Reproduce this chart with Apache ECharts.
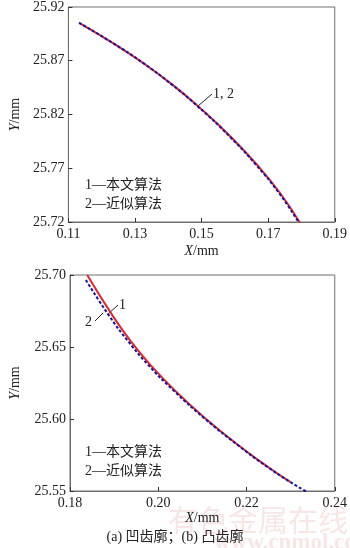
<!DOCTYPE html>
<html>
<head>
<meta charset="utf-8">
<script src="https://cdn.jsdelivr.net/npm/echarts@6/dist/echarts.min.js"></script>
<style>
  html, body { margin: 0; padding: 0; background: #fff; }
  #chart { width: 350px; height: 548px; }
</style>
</head>
<body>
<div id="chart"></div>
<script>
// (a) concave profile
const xTicksA = [0.11, 0.13, 0.15, 0.17, 0.19]
const yTicksA = [25.72, 25.77, 25.82, 25.87, 25.92]
const redAx = [0.1132, 0.1235, 0.1324, 0.1412, 0.1490, 0.1588, 0.1667, 0.1735, 0.1795]
const redAy = [25.9053, 25.8862, 25.8680, 25.8478, 25.8275, 25.7991, 25.7730, 25.7472, 25.7196]
const blueAx = [0.1132, 0.1235, 0.1324, 0.1411, 0.1489, 0.1586, 0.1664, 0.1732, 0.1792]
const blueAy = [25.9053, 25.8862, 25.8680, 25.8478, 25.8275, 25.7991, 25.7730, 25.7472, 25.7196]

// (b) convex profile
const xTicksB = [0.18, 0.20, 0.22, 0.24]
const yTicksB = [25.55, 25.60, 25.65, 25.70]
const redBx = [0.1839, 0.1898, 0.1938, 0.1982, 0.2038, 0.2107, 0.2181, 0.2247, 0.2299]
const redBy = [25.7000, 25.6711, 25.6539, 25.6376, 25.6197, 25.6004, 25.5819, 25.5670, 25.5563]
const blueBx = [0.1836, 0.1890, 0.1932, 0.1977, 0.2035, 0.2105, 0.2180, 0.2246, 0.2299, 0.2336]
const blueBy = [25.6965, 25.6711, 25.6539, 25.6376, 25.6197, 25.6004, 25.5819, 25.5670, 25.5563, 25.5495]

const legendLines = ['1\u2014本文算法', '2\u2014近似算法']

const FONT = "'Liberation Serif', 'Noto Sans CJK SC', serif"
const AXIS_COLOR = '#6e6e6e'
const RED = '#e3262b'
const BLUE = '#1414a8'

function zip (xs, ys) {
  return xs.map((x, i) => [x, ys[i]])
}

function xAxis (gridIndex, ticks, gap) {
  return {
    type: 'value',
    gridIndex,
    min: ticks[0],
    max: ticks[ticks.length - 1],
    name: '{i|X}/mm',
    nameLocation: 'middle',
    nameGap: gap,
    nameTextStyle: {
      fontFamily: FONT, fontSize: 14, color: '#222',
      rich: { i: { fontFamily: FONT, fontSize: 14, fontStyle: 'italic', color: '#222' } }
    },
    axisLine: { show: true, lineStyle: { color: AXIS_COLOR, width: 1 } },
    axisTick: { show: true, inside: true, length: 4, customValues: ticks, lineStyle: { color: '#333' } },
    axisLabel: {
      customValues: ticks, margin: 5, fontFamily: FONT, fontSize: 14, color: '#222',
      formatter: v => v.toFixed(2)
    },
    splitLine: { show: false }
  }
}

function yAxis (gridIndex, ticks, gap) {
  return {
    type: 'value',
    gridIndex,
    min: ticks[0],
    max: ticks[ticks.length - 1],
    name: '{i|Y}/mm',
    nameLocation: 'middle',
    nameRotate: 90,
    nameGap: gap,
    nameTextStyle: {
      fontFamily: FONT, fontSize: 14, color: '#222',
      rich: { i: { fontFamily: FONT, fontSize: 14, fontStyle: 'italic', color: '#222' } }
    },
    axisLine: { show: true, lineStyle: { color: AXIS_COLOR, width: 1 } },
    axisTick: { show: true, inside: true, length: 4, customValues: ticks, lineStyle: { color: '#333' } },
    axisLabel: {
      customValues: ticks, margin: 4, fontFamily: FONT, fontSize: 14, color: '#222',
      formatter: v => v.toFixed(2)
    },
    splitLine: { show: false }
  }
}

function line (idx, data, color, dashed) {
  return {
    type: 'line',
    xAxisIndex: idx,
    yAxisIndex: idx,
    data,
    smooth: true,
    symbol: 'none',
    clip: true,
    lineStyle: { color, width: 2, type: dashed ? [3, 2] : 'solid' },
    z: dashed ? 3 : 2
  }
}

function text (x, y, str, extra) {
  return {
    type: 'text', x, y,
    style: Object.assign({ text: str, fontFamily: FONT, fontSize: 14, fill: '#222', verticalAlign: 'middle' }, extra || {})
  }
}

function seg (x1, y1, x2, y2) {
  return { type: 'line', shape: { x1, y1, x2, y2 }, style: { stroke: '#222', lineWidth: 1 } }
}

const chart = echarts.init(document.getElementById('chart'), null, { renderer: 'canvas' })

chart.setOption({
  animation: false,
  backgroundColor: '#fff',
  grid: [
    { left: 64, top: 5, width: 272, height: 217, show: true, borderColor: AXIS_COLOR, borderWidth: 1 },
    { left: 64, top: 275, width: 272, height: 216, show: true, borderColor: AXIS_COLOR, borderWidth: 1 }
  ],
  xAxis: [xAxis(0, xTicksA, 22), xAxis(1, xTicksB, 20)],
  yAxis: [yAxis(0, yTicksA, 40), yAxis(1, yTicksB, 48)],
  series: [
    line(0, zip(redAx, redAy), RED, false),
    line(0, zip(blueAx, blueAy), BLUE, true),
    line(1, zip(redBx, redBy), RED, false),
    line(1, zip(blueBx, blueBy), BLUE, true)
  ],
  graphic: [
    // watermark
    text(168, 520, '有色金属在线', { fontSize: 30, fill: 'rgba(225,140,140,0.22)', fontFamily: "'Noto Sans CJK SC', sans-serif" }),
    text(214, 543, 'www.cnmol.com', { fontSize: 23, fontWeight: 'bold', fill: 'rgba(225,140,140,0.22)' }),
    // annotations (a)
    seg(198, 106, 212, 94),
    text(213, 94, '1, 2'),
    text(85, 185, legendLines[0]),
    text(85, 204, legendLines[1]),
    // annotations (b)
    seg(107, 315, 118, 305),
    text(119, 305, '1'),
    seg(95, 321, 103, 313),
    text(85, 322, '2'),
    text(85, 452, legendLines[0]),
    text(85, 471, legendLines[1]),
    text(175, 537, '(a) 凹齿廓；(b) 凸齿廓', { textAlign: 'center', fontSize: 14 })
  ]
})
</script>
</body>
</html>
